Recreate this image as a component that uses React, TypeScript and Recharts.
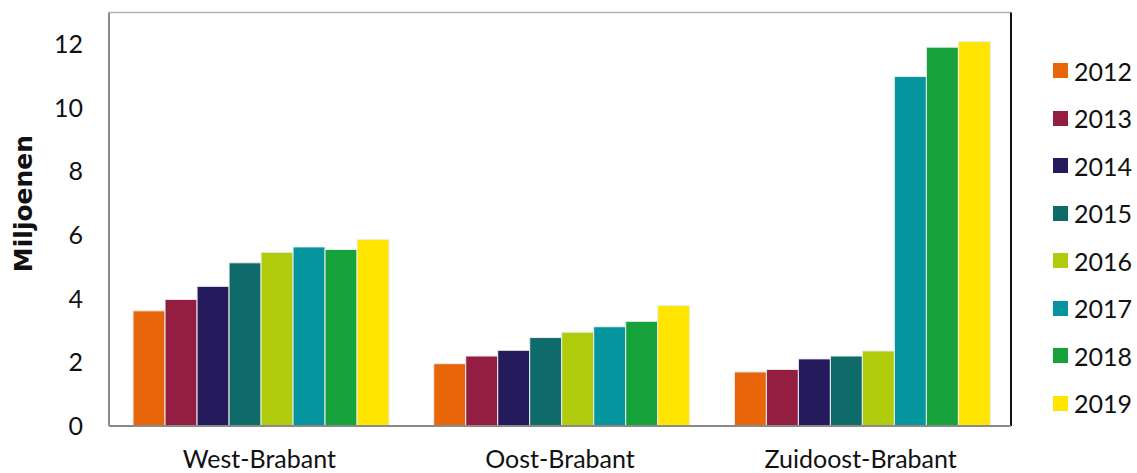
import React from "react";
import {
  BarChart,
  Bar,
  XAxis,
  YAxis,
  CartesianGrid,
  Label,
} from "recharts";

// regions on the x axis
const regions = ["West-Brabant", "Oost-Brabant", "Zuidoost-Brabant"];

// one value per region, in millions
const years = ["2012", "2013", "2014", "2015", "2016", "2017", "2018", "2019"];
const v2012 = [3.62, 1.96, 1.7];
const v2013 = [3.98, 2.2, 1.78];
const v2014 = [4.39, 2.38, 2.11];
const v2015 = [5.13, 2.78, 2.2];
const v2016 = [5.46, 2.95, 2.36];
const v2017 = [5.63, 3.12, 10.99];
const v2018 = [5.55, 3.29, 11.91];
const v2019 = [5.87, 3.79, 12.09];

const yTicks = [0, 2, 4, 6, 8, 10, 12];

const colors = [
  "#E8650A",
  "#931E42",
  "#241A5C",
  "#0E6B6A",
  "#B0CA0C",
  "#05959E",
  "#15A23A",
  "#FFE500",
];

const series = [v2012, v2013, v2014, v2015, v2016, v2017, v2018, v2019];

const data = regions.map((name, i) => {
  const row: any = { name };
  years.forEach((y, k) => {
    row[y] = series[k][i];
  });
  return row;
});

const FONT = "Lato, 'Open Sans', sans-serif";
const W = 1137;
const H = 473;

const AxisTitle = () => {
  return (
    <text
      x={23}
      y={203.5}
      transform="rotate(-90 23 203.5)"
      textAnchor="middle"
      dominantBaseline="central"
      fontFamily="'DejaVu Sans', sans-serif"
      fontWeight={700}
      fontSize={25}
      fill="#111"
    >
      Miljoenen
    </text>
  );
};

const LegendBox = () => (
  <div
    style={{
      position: "absolute",
      left: 1053,
      top: 47,
      width: 84,
      whiteSpace: "nowrap",
      fontFamily: FONT,
      fontSize: 25,
      color: "#111",
    }}
  >
    {years.map((y, i) => (
      <div
        key={y}
        style={{ height: 47.5, display: "flex", alignItems: "center" }}
      >
        <span
          style={{
            display: "inline-block",
            flex: "none",
            width: 15,
            height: 15,
            background: colors[i],
            marginRight: 6,
          }}
        />
        <span>{y}</span>
      </div>
    ))}
  </div>
);

// right-hand frame edge of the plot area
const rightEdge = ({ offset }: any) => [offset.left + offset.width];

export default function App() {
  return (
    <div
      style={{
        position: "absolute",
        left: 0,
        top: 0,
        width: W,
        height: H,
        overflow: "hidden",
        background: "#fff",
      }}
    >
      <BarChart
        width={W}
        height={H}
        data={data}
        margin={{ top: 12.5, right: 126, bottom: 0, left: 0 }}
        barCategoryGap="8%"
        barGap={0}
      >
        <CartesianGrid
          vertical={false}
          stroke="#b3b3b3"
          strokeWidth={1.5}
        />
        <CartesianGrid
          horizontal={false}
          verticalCoordinatesGenerator={rightEdge}
          stroke="#111"
          strokeWidth={2}
        />
        <XAxis
          dataKey="name"
          xAxisId="bottom"
          height={47}
          tickSize={0}
          tickMargin={24}
          axisLine={{ stroke: "#8a8a8a", strokeWidth: 2 }}
          tick={{ fontFamily: FONT, fontSize: 25, fill: "#111" }}
        />
        <XAxis
          dataKey="name"
          xAxisId="top"
          orientation="top"
          height={0}
          tick={false}
          tickLine={false}
          axisLine={{ stroke: "#111", strokeWidth: 2 }}
        />
        <YAxis
          yAxisId="left"
          width={109}
          domain={[0, 13]}
          ticks={yTicks}
          tickSize={0}
          tickMargin={26}
          axisLine={{ stroke: "#8a8a8a", strokeWidth: 2 }}
          tick={{ fontFamily: FONT, fontSize: 25, fill: "#111" }}
        >
          <Label content={<AxisTitle />} />
        </YAxis>
        {years.map((y, i) => (
          <Bar
            key={y}
            dataKey={y}
            xAxisId="bottom"
            yAxisId="left"
            fill={colors[i]}
            stroke="#eeeeee"
            strokeWidth={1}
            isAnimationActive={false}
          />
        ))}
      </BarChart>
      <LegendBox />
    </div>
  );
}
